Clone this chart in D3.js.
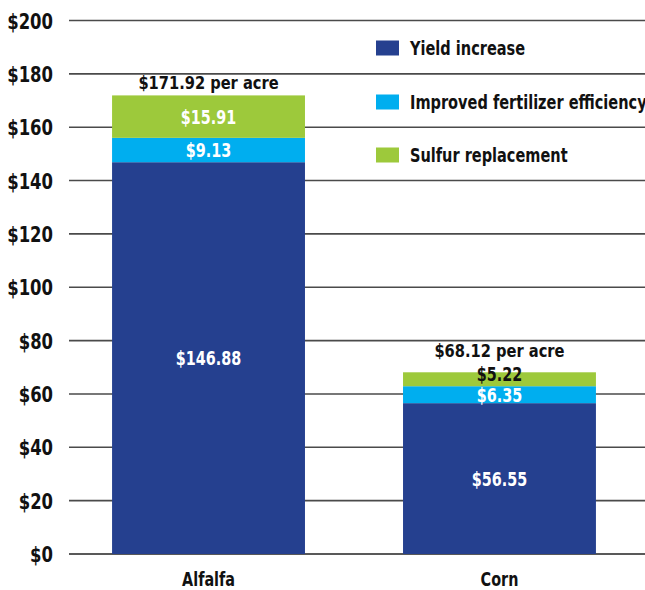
<!DOCTYPE html>
<html>
<head>
<meta charset="utf-8">
<script src="https://cdn.jsdelivr.net/npm/d3@7"></script>
<style>
  html, body { margin: 0; padding: 0; background: #fff; }
  svg { display: block; }
  text { font-family: "DejaVu Sans Condensed", "Liberation Sans Narrow", sans-serif; font-weight: bold; }
</style>
</head>
<body>
<svg id="chart" width="645" height="590"></svg>
<script>
const categories = ["Alfalfa", "Corn"];
const seriesNames = ["Yield increase", "Improved fertilizer efficiency", "Sulfur replacement"];
const yieldIncrease = [146.88, 56.55];
const fertilizerEfficiency = [9.13, 6.35];
const sulfurReplacement = [15.91, 5.22];
const totalLabels = ["$171.92 per acre", "$68.12 per acre"];
const yTicks = [0, 20, 40, 60, 80, 100, 120, 140, 160, 180, 200];
const colors = ["#25408f", "#00aeef", "#9dc93b"];

const FONT = '"DejaVu Sans Condensed", "Liberation Sans Narrow", sans-serif';
const svg = d3.select("#chart");
const plotLeft = 69, plotRight = 645;
const SMALL = 15; // px: segments thinner than this get a dark label straddling their top

// condense text horizontally to mimic a condensed bold face
function condense(sel, k) {
  sel.each(function () {
    const len = this.getComputedTextLength();
    this.setAttribute("textLength", (len * k).toFixed(1));
    this.setAttribute("lengthAdjust", "spacingAndGlyphs");
  });
}

const y = d3.scaleLinear().domain([0, 200]).range([554, 20.5]);
const x = d3.scaleBand().domain(categories).range([69, 639])
  .paddingInner(0.337).paddingOuter(0.148);

// gridlines
svg.append("g").selectAll("line").data(yTicks).join("line")
  .attr("x1", plotLeft).attr("x2", plotRight)
  .attr("y1", d => y(d)).attr("y2", d => y(d))
  .attr("stroke", d => d === 0 ? "#222" : "#4a4a4a")
  .attr("stroke-width", 1.6);

// y axis labels
const yAxis = d3.axisLeft(y).tickValues(yTicks).tickFormat(d => "$" + d).tickSize(0).tickPadding(0);
const yg = svg.append("g").attr("transform", "translate(53,0)").call(yAxis);
yg.select(".domain").remove();
yg.selectAll("text").attr("font-size", 21).attr("fill", "#111").attr("dy", "0.36em")
  .style("font-family", FONT).style("font-weight", "bold")
  .call(condense, 0.87);

// stacked data
const rows = categories.map((c, i) => ({
  cat: c,
  "Yield increase": yieldIncrease[i],
  "Improved fertilizer efficiency": fertilizerEfficiency[i],
  "Sulfur replacement": sulfurReplacement[i]
}));
const stack = d3.stack().keys(seriesNames)(rows);

const barsG = svg.append("g");
stack.forEach((layer, li) => {
  barsG.selectAll(null).data(layer).join("rect")
    .attr("x", d => x(d.data.cat))
    .attr("width", x.bandwidth())
    .attr("y", d => y(d[1]))
    .attr("height", d => y(d[0]) - y(d[1]))
    .attr("fill", colors[li]);
});

// segment labels
stack.forEach((layer, li) => {
  barsG.selectAll(null).data(layer).join("text")
    .attr("x", d => x(d.data.cat) + x.bandwidth() / 2)
    .attr("y", d => {
      const h = y(d[0]) - y(d[1]);
      return h < SMALL ? y(d[1]) + 2 : (y(d[0]) + y(d[1])) / 2;
    })
    .attr("dy", "0.36em")
    .attr("text-anchor", "middle")
    .attr("font-size", 19.5)
    .attr("fill", d => (y(d[0]) - y(d[1])) < SMALL ? "#111" : "#fff")
    .text(d => "$" + (d[1] - d[0]).toFixed(2))
    .call(condense, 0.82);
});

// total labels
const totals = rows.map((r, i) => yieldIncrease[i] + fertilizerEfficiency[i] + sulfurReplacement[i]);
const topSmall = categories.map((c, i) => (y(totals[i] - sulfurReplacement[i]) - y(totals[i])) < SMALL);
svg.append("g").selectAll("text").data(categories).join("text")
  .attr("x", d => x(d) + x.bandwidth() / 2)
  .attr("y", (d, i) => y(totals[i]) - (topSmall[i] ? 22 : 13))
  .attr("dy", "0.36em")
  .attr("text-anchor", "middle")
  .attr("font-size", 17.5)
  .attr("fill", "#111")
  .text((d, i) => totalLabels[i])
  .call(condense, 0.93);

// x axis labels
const xAxis = d3.axisBottom(x).tickSize(0).tickPadding(0);
const xg = svg.append("g").attr("transform", "translate(0,579)").call(xAxis);
xg.select(".domain").remove();
xg.selectAll("text").attr("font-size", 19.5).attr("fill", "#111").attr("dy", "0.36em")
  .style("font-family", FONT).style("font-weight", "bold")
  .call(condense, 0.82);

// legend
const legendY = [48, 102, 155];
const lg = svg.append("g");
seriesNames.forEach((name, i) => {
  lg.append("rect").attr("x", 376).attr("y", legendY[i] - 7.5)
    .attr("width", 23).attr("height", 15).attr("fill", colors[i]);
  lg.append("text").attr("x", 410).attr("y", legendY[i]).attr("dy", "0.36em")
    .attr("font-size", 19).attr("fill", "#111").text(name)
    .call(condense, 0.85);
});
</script>
</body>
</html>
